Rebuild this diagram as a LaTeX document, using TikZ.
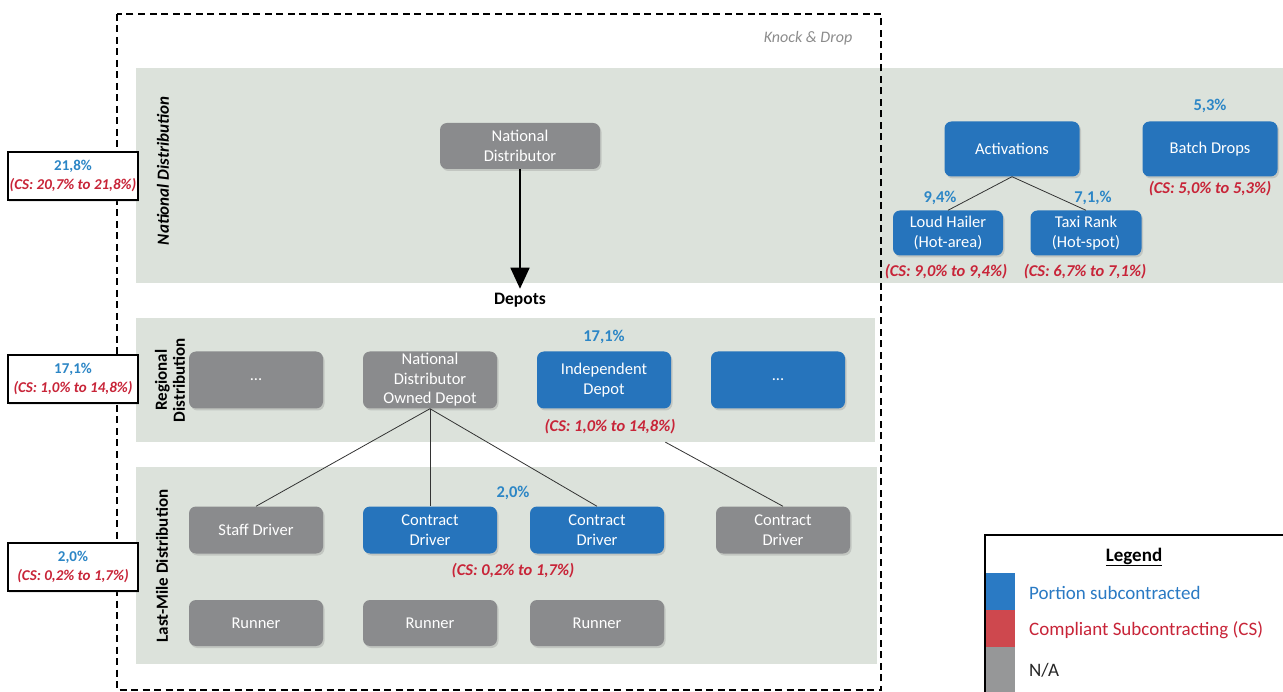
\documentclass[tikz,border=0pt]{standalone}
\usepackage{fontspec}
\setmainfont{Carlito}
\usetikzlibrary{shadows,calc,arrows.meta}

\definecolor{lanefill}{RGB}{220,226,219}
\definecolor{nagray}{RGB}{138,139,141}
\definecolor{subblue}{RGB}{38,116,188}
\definecolor{pctblue}{RGB}{44,134,198}
\definecolor{csred}{RGB}{200,36,56}
\definecolor{legblue}{RGB}{42,122,196}
\definecolor{legred}{RGB}{206,72,78}
\definecolor{leggray}{RGB}{150,151,152}

\tikzset{
  lane/.style={fill=lanefill, draw=none},
  unit/.style={rounded corners=7pt, minimum width=134pt, minimum height=47pt,
    text=white, align=center, inner sep=1pt,
    font=\fontsize{16.5}{19.5}\selectfont,
    drop shadow={opacity=0.28, shadow xshift=1.5pt, shadow yshift=-2pt}},
  grayunit/.style={unit, fill=nagray},
  blueunit/.style={unit, fill=subblue},
  pct/.style={text=pctblue, font=\bfseries\fontsize{16.5}{18}\selectfont, inner sep=1pt},
  cs/.style={text=csred, font=\bfseries\itshape\fontsize{16.5}{18}\selectfont, inner sep=1pt},
  lanetitle/.style={rotate=90, align=center, font=\bfseries\fontsize{17}{18}\selectfont},
  sidebox/.style={draw=black, line width=1.4pt, fill=white, minimum width=130pt,
    minimum height=48pt, align=center, inner sep=0pt,
    font=\bfseries\fontsize{15}{19}\selectfont,
    drop shadow={opacity=0.18, shadow xshift=1pt, shadow yshift=-2pt}},
  link/.style={draw=black!80, line width=0.8pt},
  frame/.style={draw=black, line width=1.5pt, dash pattern=on 7pt off 4.5pt},
  legtext/.style={anchor=west, font=\fontsize{19}{21}\selectfont, inner sep=0pt}
}

\begin{document}
\begin{tikzpicture}[x=1pt, y=-1pt]
\useasboundingbox (0,0) rectangle (1283,692);
\clip (0,0) rectangle (1283,692);
\fill[white] (0,0) rectangle (1283,692);

% distribution lanes
\fill[lane] (136,68) rectangle (1290,283);
\fill[lane] (136,318) rectangle (875,442);
\fill[lane] (136,467) rectangle (877,664);

% Knock & Drop frame
\draw[frame] (117,14) rectangle (881,690);
\node[text=black!45, font=\itshape\fontsize{16}{18}\selectfont] (kd) at (808,38) {Knock \& Drop};

% lane titles
\node[lanetitle, font=\bfseries\itshape\fontsize{17}{18}\selectfont] (tnat) at (163,171) {National Distribution};
\node[lanetitle] (treg) at (170,380) {Regional\\Distribution};
\node[lanetitle] (tlm) at (162,566) {Last-Mile Distribution};

% side summary boxes
\node[sidebox] (s1) at (73,176) {\textcolor{pctblue}{21,8\%}\\\textcolor{csred}{\itshape (CS: 20,7\% to 21,8\%)}};
\node[sidebox] (s2) at (73,379) {\textcolor{pctblue}{17,1\%}\\\textcolor{csred}{\itshape (CS: 1,0\% to 14,8\%)}};
\node[sidebox] (s3) at (73,567) {\textcolor{pctblue}{2,0\%}\\\textcolor{csred}{\itshape (CS: 0,2\% to 1,7\%)}};

% national distribution
\node[grayunit, minimum width=160pt, minimum height=46pt] (nd) at (520,146) {National\\Distributor};
\node[font=\bfseries\fontsize{17.5}{19}\selectfont, inner sep=1pt] (dep) at (520,300) {Depots};
\draw[line width=1.6pt, -{Triangle[width=19pt, length=21pt]}] (nd.south) -- ($(dep.north)+(0,-3)$);

% regional distribution
\node[grayunit, minimum height=57pt] (r1) at (256,380) {...};
\node[grayunit, minimum height=57pt] (r2) at (430,380) {National\\Distributor\\Owned Depot};
\node[blueunit, minimum height=57pt] (r3) at (604,380) {Independent\\Depot};
\node[blueunit, minimum height=57pt] (r4) at (778,380) {...};
\node[pct] (p3) at (604,337) {17,1\%};
\node[cs] (c3) at (610,427) {(CS: 1,0\% to 14,8\%)};

% last-mile distribution
\node[grayunit] (sd) at (256,530) {Staff Driver};
\node[blueunit] (cd1) at (430,530) {Contract\\Driver};
\node[blueunit] (cd2) at (597,530) {Contract\\Driver};
\node[grayunit] (cd3) at (783,530) {Contract\\Driver};
\node[grayunit, minimum height=46pt] (ru1) at (256,623) {Runner};
\node[grayunit, minimum height=46pt] (ru2) at (430,623) {Runner};
\node[grayunit, minimum height=46pt] (ru3) at (597,623) {Runner};
\node[pct] (pcd) at (513,493) {2,0\%};
\node[cs] (ccd) at (513,571) {(CS: 0,2\% to 1,7\%)};

% depot to driver links
\draw[link] (r2.south) -- (sd.north);
\draw[link] (r2.south) -- (cd1.north);
\draw[link] (r2.south) -- (cd2.north);
\coordinate (r3low) at ($(r3.south)!0.343!(cd3.north)$);
\draw[link] (r3low) -- (cd3.north);

% knock & drop activities
\node[blueunit, minimum height=55pt, minimum width=135pt] (act) at (1012,149) {Activations};
\node[blueunit, minimum height=55pt, minimum width=135pt] (bd) at (1210,149) {Batch Drops};
\node[blueunit, minimum height=45pt, minimum width=110pt] (lh) at (948,233) {Loud Hailer\\(Hot-area)};
\node[blueunit, minimum height=45pt, minimum width=111pt] (tr) at (1086,233) {Taxi Rank\\(Hot-spot)};
\draw[link] (act.south) -- (lh.north);
\draw[link] (act.south) -- (tr.north);
\node[pct] (pbd) at (1210,106) {5,3\%};
\node[cs] (cbd) at (1210,189) {(CS: 5,0\% to 5,3\%)};
\node[pct] (plh) at (940,198) {9,4\%};
\node[pct] (ptr) at (1093,198) {7,1,\%};
\node[cs] (clh) at (946,272) {(CS: 9,0\% to 9,4\%)};
\node[cs] (ctr) at (1085,272) {(CS: 6,7\% to 7,1\%)};

% legend
\fill[white] (985,535) rectangle (1300,710);
\fill[legblue] (985,573) rectangle (1015,610);
\fill[legred] (985,610) rectangle (1015,647);
\fill[leggray] (985,647) rectangle (1015,710);
\draw[line width=1.3pt] (985,535) rectangle (1300,710);
\node[font=\bfseries\fontsize{19}{21}\selectfont] (lgt) at (1134,557) {\underline{Legend}};
\node[legtext, text=legblue] (l1) at (1029,593) {Portion subcontracted};
\node[legtext, text=csred] (l2) at (1029,630) {Compliant Subcontracting (CS)};
\node[legtext, text=black!85] (l3) at (1029,670) {N/A};
\end{tikzpicture}
\end{document}
